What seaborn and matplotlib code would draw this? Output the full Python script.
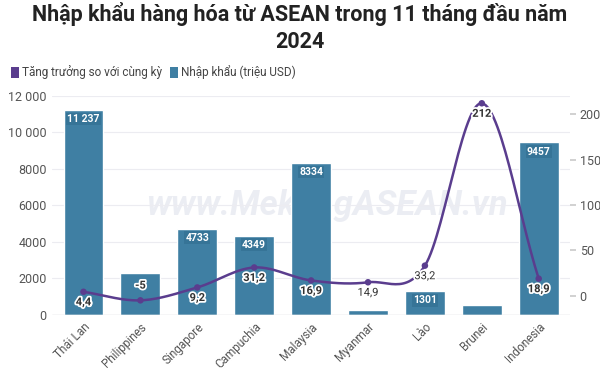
import numpy as np
import pandas as pd
import matplotlib
matplotlib.use("Agg")
import matplotlib.pyplot as plt
import matplotlib.patheffects as pe
from matplotlib.patches import Patch
import seaborn as sns

countries = ["Thái Lan", "Philippines", "Singapore", "Campuchia", "Malaysia",
             "Myanmar", "Lào", "Brunei", "Indonesia"]
imports = [11237, 2290, 4733, 4349, 8334, 280, 1301, 520, 9457]
growth = [4.4, -5, 9.2, 31.2, 16.9, 14.9, 33.2, 212, 18.9]
bar_labels = ["11 237", "", "4733", "4349", "8334", "", "1301", "", "9457"]
growth_labels = ["4,4", "-5", "9,2", "31,2", "16,9", "14,9", "33,2", "212", "18,9"]
left_ticks = [0, 2000, 4000, 6000, 8000, 10000, 12000]
left_tick_labels = ["0", "2000", "4000", "6000", "8000", "10 000", "12 000"]
right_ticks = [0, 50, 100, 150, 200]

bar_color = "#3f7fa3"
line_color = "#5a3d8e"
text_gray = "#555555"

sns.set_theme(style="white")
plt.rcParams["font.family"] = ["Roboto", "DejaVu Sans"]

df = pd.DataFrame({"country": countries, "imports": imports, "growth": growth})

fig = plt.figure(figsize=(6, 3.78), dpi=100)
ax = fig.add_axes([0.087, 0.167, 0.863, 0.579])

sns.barplot(data=df, x="country", y="imports", color=bar_color, width=0.7,
            saturation=1, ax=ax)
ax.set_ylim(0, 12000)
ax.set_xlim(-0.55, len(countries) - 0.45)
ax.set_yticks(left_ticks)
ax.set_yticklabels(left_tick_labels, color=text_gray, fontsize=9)
ax.set_xlabel("")
ax.set_ylabel("")
ax.set_xticks(range(len(countries)))
ax.set_xticklabels(countries, rotation=45, ha="right", rotation_mode="anchor",
                   color=text_gray, fontsize=8.5)
ax.tick_params(axis="x", length=0, pad=4)
ax.tick_params(axis="y", length=0, pad=4)
ax.grid(axis="y", color="#ececf1", linewidth=0.8)
ax.set_axisbelow(True)
for s in ax.spines.values():
    s.set_visible(False)
ax.axhline(0, color="#dddddd", linewidth=1, zorder=1)

# watermark
ax.text(0.53, 0.5, "www.MekongASEAN.vn", transform=ax.transAxes, ha="center",
        va="center", fontsize=25, fontweight="bold", style="italic",
        color="#dfe2ec", alpha=0.6, zorder=0.5)

for i, lab in enumerate(bar_labels):
    if lab:
        ax.text(i, imports[i] - 230, lab, ha="center", va="top", fontsize=7.5,
                fontweight="bold", color="white",
                bbox=dict(boxstyle="square,pad=0.12", fc="#2f6a8c", ec="none", alpha=0.5),
                zorder=5)

ax2 = ax.twinx()
ax2.set_ylim(-21, 220)
ax2.set_yticks(right_ticks)
ax2.set_yticklabels([str(t) for t in right_ticks], color=text_gray, fontsize=9)
ax2.tick_params(axis="y", length=4, color="#cccccc", pad=3)
for s in ax2.spines.values():
    s.set_visible(False)
ax2.grid(False)

# smooth spline through the points (Catmull-Rom)
xs = np.arange(len(growth), dtype=float)
ys = np.array(growth, dtype=float)
px = np.concatenate([[2 * xs[0] - xs[1]], xs, [2 * xs[-1] - xs[-2]]])
py = np.concatenate([[2 * ys[0] - ys[1]], ys, [2 * ys[-1] - ys[-2]]])
cx, cy = [], []
t = np.linspace(0, 1, 30)
for k in range(1, len(px) - 2):
    p0, p1, p2, p3 = py[k - 1], py[k], py[k + 1], py[k + 2]
    q0, q1, q2, q3 = px[k - 1], px[k], px[k + 1], px[k + 2]
    cy.extend(0.5 * ((2 * p1) + (-p0 + p2) * t + (2 * p0 - 5 * p1 + 4 * p2 - p3) * t ** 2
                     + (-p0 + 3 * p1 - 3 * p2 + p3) * t ** 3))
    cx.extend(0.5 * ((2 * q1) + (-q0 + q2) * t + (2 * q0 - 5 * q1 + 4 * q2 - q3) * t ** 2
                     + (-q0 + 3 * q1 - 3 * q2 + q3) * t ** 3))
ax2.plot(cx, cy, color=line_color, linewidth=1.8, zorder=4)
sns.scatterplot(x=xs, y=ys, color=line_color, s=22, edgecolor="none", ax=ax2, zorder=5)

offsets = [-10, 7, -10, -10, -10, -10, -10, -10, -10]
for i, lab in enumerate(growth_labels):
    va = "bottom" if offsets[i] > 0 else "top"
    ax2.annotate(lab, (i, growth[i]), xytext=(0, offsets[i] if offsets[i] > 0 else -4),
                 textcoords="offset points", ha="center", va=va, fontsize=8,
                 fontweight="bold" if i not in (5, 6) else "normal",
                 color="#333333",
                 path_effects=[pe.withStroke(linewidth=2.5, foreground="white")],
                 zorder=6)

fig.suptitle("Nhập khẩu hàng hóa từ ASEAN trong 11 tháng đầu năm\n2024",
             fontsize=15.5, fontweight="bold", color="#222222", y=0.995,
             linespacing=1.3)

handles = [Patch(facecolor=line_color, edgecolor="none"),
           Patch(facecolor=bar_color, edgecolor="none")]
fig.legend(handles, ["Tăng trưởng so với cùng kỳ", "Nhập khẩu (triệu USD)"],
           loc="upper left", bbox_to_anchor=(0.0, 0.855), ncol=2, frameon=False,
           fontsize=8.5, handlelength=0.7, handleheight=1.0, handletextpad=0.3,
           columnspacing=0.6, labelcolor="#444444")

fig.savefig("out.png", dpi=100)
